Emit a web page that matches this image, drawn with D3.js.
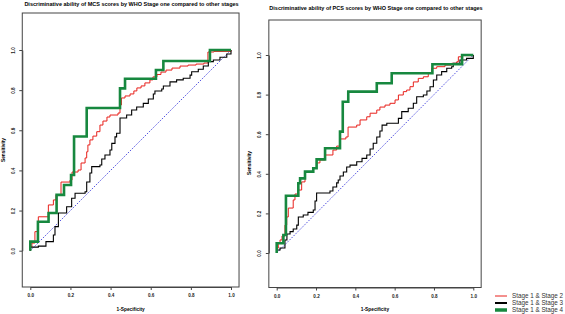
<!DOCTYPE html>
<html>
<head>
<meta charset="utf-8">
<script src="https://cdn.jsdelivr.net/npm/d3@7"></script>
<style>
  body { margin: 0; background: #fff; }
  text { font-family: "Liberation Sans", Arial, sans-serif; }
</style>
</head>
<body>
<div id="chart-area"></div>
<script>
// ROC curves, corner points of each step (1-specificity, sensitivity)
const tickValues = [0, 0.2, 0.4, 0.6, 0.8, 1.0]
const seriesNames = ["Stage 1 & Stage 2", "Stage 1 & Stage 3", "Stage 1 & Stage 4"]
const titles = [
  "Discriminative ability of MCS scores by WHO Stage one compared to other stages",
  "Discriminative ability of PCS scores by WHO Stage one compared to other stages",
]

// MCS panel
const mcsStage2Fpr = [0, 0, 0.008, 0.023, 0.040, 0.090, 0.115, 0.128, 0.153, 0.198, 0.208, 0.238, 0.253, 0.273, 0.281, 0.287, 0.297, 0.312, 0.331, 0.347, 0.362, 0.382, 0.397, 0.437, 0.447, 0.454, 0.472, 0.497, 0.516, 0.531, 0.552, 0.571, 0.596, 0.611, 0.631, 0.651, 0.676, 0.706, 0.746, 0.786, 0.826, 0.865, 0.885, 0.915, 1]
const mcsStage2Tpr = [0, 0.018, 0.038, 0.095, 0.169, 0.228, 0.253, 0.278, 0.342, 0.352, 0.392, 0.402, 0.437, 0.462, 0.493, 0.527, 0.552, 0.571, 0.593, 0.626, 0.646, 0.666, 0.676, 0.686, 0.726, 0.761, 0.771, 0.781, 0.796, 0.811, 0.821, 0.836, 0.851, 0.866, 0.878, 0.890, 0.900, 0.910, 0.920, 0.925, 0.930, 0.935, 0.990, 0.993, 1]
const mcsStage3Fpr = [0, 0, 0.040, 0.078, 0.115, 0.123, 0.140, 0.181, 0.206, 0.223, 0.273, 0.281, 0.297, 0.306, 0.347, 0.356, 0.372, 0.397, 0.406, 0.422, 0.430, 0.447, 0.480, 0.505, 0.530, 0.563, 0.588, 0.613, 0.621, 0.655, 0.663, 0.696, 0.729, 0.762, 0.796, 0.804, 0.837, 0.862, 0.887, 0.912, 0.945, 0.979, 1]
const mcsStage3Tpr = [0, 0.018, 0.023, 0.045, 0.078, 0.120, 0.188, 0.219, 0.261, 0.286, 0.294, 0.342, 0.387, 0.419, 0.427, 0.457, 0.477, 0.502, 0.535, 0.567, 0.585, 0.661, 0.676, 0.701, 0.716, 0.734, 0.756, 0.781, 0.796, 0.806, 0.821, 0.841, 0.851, 0.859, 0.875, 0.892, 0.904, 0.920, 0.942, 0.950, 0.964, 0.980, 1]
const mcsStage4Fpr = [0, 0, 0.038, 0.091, 0.131, 0.168, 0.203, 0.218, 0.281, 0.447, 0.472, 0.626, 0.663, 0.895, 1]
const mcsStage4Tpr = [0, 0.045, 0.144, 0.188, 0.278, 0.327, 0.377, 0.569, 0.711, 0.809, 0.857, 0.900, 0.945, 1, 1]

// PCS panel
const pcsStage2Fpr = [0, 0, 0.008, 0.017, 0.027, 0.042, 0.051, 0.059, 0.084, 0.093, 0.110, 0.127, 0.144, 0.186, 0.203, 0.220, 0.246, 0.286, 0.305, 0.322, 0.352, 0.363, 0.407, 0.424, 0.458, 0.475, 0.509, 0.525, 0.551, 0.576, 0.602, 0.619, 0.644, 0.661, 0.678, 0.695, 0.720, 0.746, 0.771, 0.788, 0.814, 0.856, 0.890, 0.916, 0.924, 0.943, 1]
const pcsStage2Tpr = [0, 0.025, 0.051, 0.066, 0.086, 0.141, 0.182, 0.227, 0.268, 0.298, 0.318, 0.359, 0.409, 0.429, 0.455, 0.470, 0.495, 0.520, 0.540, 0.576, 0.586, 0.636, 0.646, 0.672, 0.688, 0.706, 0.722, 0.737, 0.747, 0.756, 0.773, 0.798, 0.815, 0.823, 0.840, 0.864, 0.882, 0.890, 0.908, 0.933, 0.941, 0.949, 0.958, 0.966, 0.991, 0.997, 1]
const pcsStage3Fpr = [0, 0, 0.017, 0.042, 0.052, 0.068, 0.084, 0.102, 0.110, 0.135, 0.159, 0.186, 0.195, 0.203, 0.271, 0.286, 0.305, 0.313, 0.322, 0.339, 0.356, 0.373, 0.407, 0.434, 0.458, 0.475, 0.491, 0.509, 0.525, 0.536, 0.560, 0.619, 0.636, 0.669, 0.695, 0.712, 0.746, 0.764, 0.780, 0.797, 0.814, 0.839, 0.865, 0.890, 0.898, 0.932, 0.966, 1]
const pcsStage3Tpr = [0, 0.015, 0.025, 0.066, 0.096, 0.108, 0.121, 0.141, 0.182, 0.192, 0.205, 0.217, 0.263, 0.303, 0.313, 0.333, 0.354, 0.369, 0.389, 0.409, 0.434, 0.444, 0.461, 0.478, 0.495, 0.525, 0.554, 0.586, 0.616, 0.646, 0.655, 0.680, 0.714, 0.731, 0.756, 0.789, 0.798, 0.818, 0.840, 0.874, 0.899, 0.916, 0.933, 0.941, 0.958, 0.975, 0.983, 1]
const pcsStage4Fpr = [0, 0, 0.034, 0.047, 0.110, 0.119, 0.144, 0.186, 0.203, 0.246, 0.322, 0.336, 0.364, 0.509, 0.585, 0.792, 0.943, 1]
const pcsStage4Tpr = [0, 0.049, 0.091, 0.289, 0.352, 0.377, 0.411, 0.428, 0.473, 0.529, 0.613, 0.764, 0.815, 0.857, 0.908, 0.953, 1, 1]

const seriesColors = ["#e8211c", "#000000", "#17883f"]
const seriesWidths = [1, 1.1, 2.6]

const svg = d3.select("#chart-area").append("svg")
  .attr("width", 565)
  .attr("height", 314)

function zip(xs, ys) {
  return xs.map((v, i) => [v, ys[i]])
}

function drawPanel(p) {
  const x = d3.scaleLinear().domain([0, 1]).range([p.x0, p.x1])
  const y = d3.scaleLinear().domain([0, 1]).range([p.y0, p.y1])
  const g = svg.append("g")

  // box (plot region extends past 0..1)
  g.append("rect")
    .attr("x", x(-0.04))
    .attr("y", p.top)
    .attr("width", x(1.04) - x(-0.04))
    .attr("height", p.bottom - p.top)
    .attr("fill", "none")
    .attr("stroke", "#444")
    .attr("stroke-width", 1)

  // x axis
  const xAxis = g.append("g")
    .attr("transform", `translate(0, ${p.bottom})`)
    .call(d3.axisBottom(x).tickValues(tickValues).tickFormat(d3.format(".1f")).tickSize(3).tickSizeOuter(0))
  xAxis.select(".domain").attr("stroke", "#444")
  xAxis.selectAll("line").attr("stroke", "#444")
  xAxis.selectAll("text")
    .attr("font-size", "4.6px")
    .attr("font-weight", "bold")
    .attr("fill", "#222")
    .attr("y", 7)

  // y axis, labels parallel to axis
  const yAxis = g.append("g")
    .attr("transform", `translate(${x(-0.04)}, 0)`)
    .call(d3.axisLeft(y).tickValues(tickValues).tickFormat(d3.format(".1f")).tickSize(3).tickSizeOuter(0))
  yAxis.select(".domain").attr("stroke", "#444")
  yAxis.selectAll("line").attr("stroke", "#444")
  yAxis.selectAll("text")
    .attr("font-size", "4.6px")
    .attr("font-weight", "bold")
    .attr("fill", "#222")
    .attr("x", null)
    .attr("dy", null)
    .attr("text-anchor", "middle")
    .attr("transform", "translate(-7.5, 0) rotate(-90)")

  g.append("text")
    .attr("x", (p.x0 + p.x1) / 2)
    .attr("y", 311)
    .attr("font-size", "4.8px")
    .attr("font-weight", "bold")
    .attr("text-anchor", "middle")
    .text("1-Specificity")

  g.append("text")
    .attr("transform", `translate(${p.ylabX}, ${p.ylabY}) rotate(-90)`)
    .attr("font-size", "4.8px")
    .attr("font-weight", "bold")
    .attr("text-anchor", "middle")
    .text("Sensitivity")

  g.append("text")
    .attr("x", p.titleX)
    .attr("y", p.titleY)
    .attr("font-size", "5.5px")
    .attr("font-weight", "bold")
    .attr("text-anchor", "middle")
    .text(p.title)

  // chance diagonal
  g.append("path")
    .attr("d", d3.line().x(d => x(d[0])).y(d => y(d[1]))([[0, 0], [1, 1]]))
    .attr("fill", "none")
    .attr("stroke", "#2a2ad8")
    .attr("stroke-width", 0.8)
    .attr("stroke-dasharray", "1.6,1.4")

  const line = d3.line()
    .x(d => x(d[0]))
    .y(d => y(d[1]))
    .curve(d3.curveStepAfter)

  p.series.forEach((s, i) => {
    g.append("path")
      .attr("d", line(s))
      .attr("fill", "none")
      .attr("stroke", seriesColors[i])
      .attr("stroke-width", seriesWidths[i])
      .attr("stroke-linejoin", "miter")
  })
}

drawPanel({
  x0: 30.3, x1: 231, y0: 250.7, y1: 50, top: 13, bottom: 287,
  ylabX: 4.5, ylabY: 150, titleX: 131.5, titleY: 5.5, title: titles[0],
  series: [zip(mcsStage2Fpr, mcsStage2Tpr), zip(mcsStage3Fpr, mcsStage3Tpr), zip(mcsStage4Fpr, mcsStage4Tpr)],
})

drawPanel({
  x0: 276.7, x1: 473.3, y0: 253, y1: 55, top: 20, bottom: 287.5,
  ylabX: 251, ylabY: 163, titleX: 376, titleY: 10, title: titles[1],
  series: [zip(pcsStage2Fpr, pcsStage2Tpr), zip(pcsStage3Fpr, pcsStage3Tpr), zip(pcsStage4Fpr, pcsStage4Tpr)],
})

// legend
const legendWidths = [1, 2, 3.5]
const legend = svg.append("g")
seriesNames.forEach((name, i) => {
  const ly = 296 + i * 7
  legend.append("line")
    .attr("x1", 495).attr("x2", 507)
    .attr("y1", ly).attr("y2", ly)
    .attr("stroke", seriesColors[i])
    .attr("stroke-width", legendWidths[i])
  legend.append("text")
    .attr("x", 512)
    .attr("y", ly + 2.2)
    .attr("font-size", "6.3px")
    .attr("fill", "#333")
    .text(name)
})
</script>
</body>
</html>
